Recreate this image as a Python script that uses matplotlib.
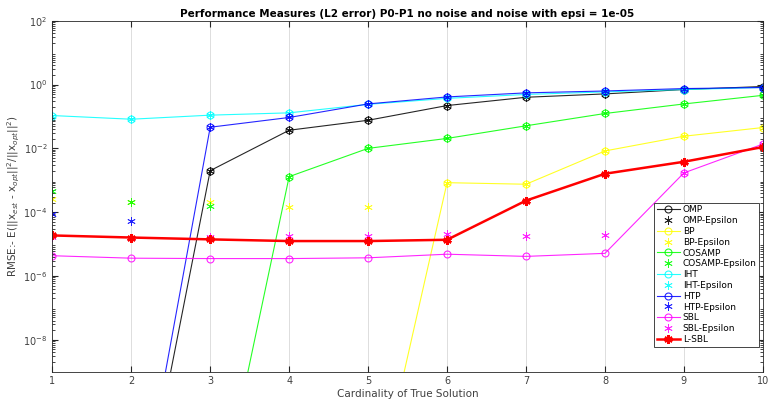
import numpy as np
import matplotlib
matplotlib.use('Agg')
import matplotlib.pyplot as plt
from matplotlib.ticker import LogLocator, NullFormatter, FixedLocator
plt.rcParams.update({'font.size': 7, 'font.family': 'DejaVu Sans'})

k = np.arange(1, 11)

# main curves (values under 1e-9 are off the bottom of the axes)
omp = [1e-16, 5e-16, 2.0e-3, 3.7e-2, 7.6e-2, 0.22, 0.40, 0.51, 0.70, 0.87]
bp = [1e-15, 1e-15, 1e-15, 1e-15, 1e-14, 8.4e-4, 7.5e-4, 8.3e-3, 2.4e-2, 4.5e-2]
cosamp = [1e-15, 1e-15, 2.5e-15, 1.3e-3, 1.0e-2, 2.05e-2, 5.1e-2, 0.124, 0.247, 0.46]
iht = [0.107, 0.082, 0.11, 0.13, 0.24, 0.37, 0.49, 0.59, 0.70, 0.81]
htp = [1e-16, 1.3e-15, 4.6e-2, 9.3e-2, 0.248, 0.41, 0.55, 0.63, 0.75, 0.81]
sbl = [4.3e-6, 3.6e-6, 3.5e-6, 3.5e-6, 3.7e-6, 4.8e-6, 4.1e-6, 5.1e-6, 1.7e-3, 1.36e-2]
lsbl = [1.86e-5, 1.6e-5, 1.4e-5, 1.24e-5, 1.24e-5, 1.36e-5, 2.3e-4, 1.6e-3, 3.8e-3, 1.1e-2]

# noisy runs (epsi = 1e-05)
omp_eps = [1.86e-5, 1.6e-5, 2.0e-3, 3.7e-2, 7.6e-2, 0.22, 0.40, 0.51, 0.70, 0.87]
bp_eps = [2.6e-4, 2.1e-4, 2.1e-4, 1.5e-4, 1.4e-4, 8.4e-4, 7.5e-4, 8.3e-3, 2.4e-2, 4.5e-2]
cosamp_eps = [4.6e-4, 2.1e-4, 1.6e-4, 1.3e-3, 1.0e-2, 2.05e-2, 5.1e-2, 0.124, 0.247, 0.46]
iht_eps = [0.107, 0.082, 0.11, 0.13, 0.24, 0.37, 0.49, 0.59, 0.70, 0.81]
htp_eps = [8.9e-5, 5.4e-5, 4.6e-2, 9.3e-2, 0.248, 0.41, 0.55, 0.63, 0.75, 0.81]
sbl_eps = [1.7e-5, 1.6e-5, 1.66e-5, 1.8e-5, 1.8e-5, 2.0e-5, 1.8e-5, 1.9e-5, 1.7e-3, 1.36e-2]

fig = plt.figure(figsize=(7.69, 4.0), dpi=100)
ax = fig.add_axes([0.068, 0.071, 0.924, 0.877])

star = (6, 2, 0)  # matlab-like asterisk
series = [('OMP', omp, omp_eps, 'k'),
          ('BP', bp, bp_eps, '#ffff00'),
          ('COSAMP', cosamp, cosamp_eps, '#00ff00'),
          ('IHT', iht, iht_eps, '#00ffff'),
          ('HTP', htp, htp_eps, '#0000ff'),
          ('SBL', sbl, sbl_eps, '#ff00ff')]
for name, v, ve, c in series:
    ax.plot(k, v, '-o', color=c, lw=0.8, ms=5, mfc='none', mew=0.8, label=name, alpha=0.85)
    ax.plot(k, ve, marker=star, color=c, ms=6, mew=0.6, ls='none', label=name + '-Epsilon', alpha=0.85)
ax.plot(k, lsbl, '-', marker=star, color='#ff0000', lw=1.8, ms=6, mew=1.8, label='L-SBL')

ax.set_yscale('log')
ax.set_xlim(1, 10)
ax.set_ylim(1e-9, 1e2)
ax.xaxis.set_major_locator(FixedLocator(k))
ax.yaxis.set_major_locator(FixedLocator([1e-8, 1e-6, 1e-4, 1e-2, 1e0, 1e2]))
ax.yaxis.set_minor_locator(LogLocator(base=10, subs=np.arange(2, 10), numticks=30))
ax.yaxis.set_minor_formatter(NullFormatter())
ax.grid(True, axis='x', color='#dddddd', lw=0.7)
ax.tick_params(which='both', direction='in', top=True, right=True, colors='#262626', labelcolor='#404040')
ax.tick_params(which='major', length=4)
ax.tick_params(which='minor', length=2)
for s in ax.spines.values():
    s.set_color('#262626')
    s.set_linewidth(0.6)

ax.set_title('Performance Measures (L2 error) P0-P1 no noise and noise with epsi = 1e-05',
             fontsize=7.5, fontweight='bold', pad=3)
ax.set_xlabel('Cardinality of True Solution', fontsize=7.5, color='#404040', labelpad=2)
ax.set_ylabel(r'RMSE:- E(||x$_{est}$ - x$_{opt}$||$^2$/||x$_{opt}$||$^2$)', fontsize=7.5,
              color='#404040', labelpad=1)

leg = ax.legend(loc='lower right', bbox_to_anchor=(0.995, 0.071), borderaxespad=0, fontsize=6.5,
                fancybox=False, edgecolor='#262626', framealpha=1, handlelength=2.6,
                labelspacing=0.2, borderpad=0.3, handletextpad=0.3)
leg.get_frame().set_linewidth(0.6)

fig.savefig('out.png', dpi=100)
